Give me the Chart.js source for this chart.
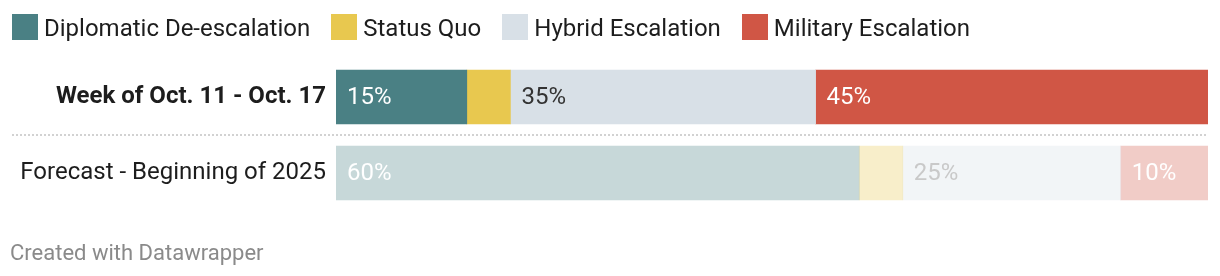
<!DOCTYPE html>
<html><head><meta charset="utf-8">
<script src="https://cdnjs.cloudflare.com/ajax/libs/Chart.js/4.4.1/chart.umd.js"></script>
<style>
body{margin:0;background:#fff;font-family:Roboto,sans-serif;}
#wrap{position:relative;width:1220px;height:276px;overflow:hidden;}
#legend{position:absolute;left:12px;top:14px;display:flex;font-size:24px;color:#1d1d1d;line-height:26px;}
.li{display:flex;align-items:center;margin-right:21px;}
.li span{position:relative;top:1px;}
.sw{width:26px;height:26px;margin-right:6px;}
#foot{position:absolute;left:10px;top:240px;font-size:22px;color:#8a8a8a;line-height:26px;}
#cv{position:absolute;left:0;top:0;}
</style></head><body>
<div id="wrap">
<canvas id="cv" width="1220" height="276"></canvas>
<div id="legend"></div>
<div id="foot">Created with Datawrapper</div>
</div>
<script>
const rows=['Week of Oct. 11 - Oct. 17','Forecast - Beginning of 2025'];
const series=['Diplomatic De-escalation','Status Quo','Hybrid Escalation','Military Escalation'];
const diplomatic=[15,60];
const statusQuo=[5,5];
const hybrid=[35,25];
const military=[45,10];
const colors=['#4a8084','#e8c84f','#d8e0e7','#d05645'];
const faded=['rgba(74,128,132,.31)','rgba(232,200,79,.3)','rgba(216,224,231,.33)','rgba(208,86,69,.3)'];
const labelCol=[['#fff','#fff'],[null,null],['#333','#c9c9c9'],['#fff','#fff']];

document.getElementById('legend').innerHTML=series.map((s,i)=>`<div class="li"><div class="sw" style="background:${colors[i]}"></div><span>${s}</span></div>`).join('');

const barLabels={
  id:'barLabels',
  afterDatasetsDraw(chart){
    const ctx=chart.ctx;
    ctx.save();
    ctx.font='24px Roboto';ctx.textBaseline='middle';ctx.textAlign='left';
    chart.data.datasets.forEach((ds,di)=>{
      chart.getDatasetMeta(di).data.forEach((bar,i)=>{
        const c=labelCol[di][i];if(!c)return;
        ctx.fillStyle=c;
        ctx.fillText(ds.data[i]+'%',bar.base+11,bar.y+1);
      });
    });
    const y=chart.scales.y.getPixelForValue(0.5);
    ctx.strokeStyle='#c4c4c4';ctx.lineWidth=1.5;ctx.setLineDash([2,2]);
    ctx.beginPath();ctx.moveTo(12,y);ctx.lineTo(chart.chartArea.right,y);ctx.stroke();
    ctx.restore();
  }
};

const vals=[diplomatic,statusQuo,hybrid,military];
new Chart(document.getElementById('cv'),{
  type:'bar',
  data:{labels:rows,datasets:series.map((s,i)=>({label:s,data:vals[i],backgroundColor:[colors[i],faded[i]],borderWidth:0,barThickness:54}))},
  options:{
    indexAxis:'y',responsive:false,animation:false,
    layout:{padding:{top:59,bottom:65,right:12,left:0}},
    plugins:{legend:{display:false},tooltip:{enabled:false}},
    scales:{
      x:{stacked:true,display:false,min:0,max:100},
      y:{stacked:true,grid:{display:false,drawTicks:false},border:{display:false},
        afterFit:s=>{s.width=336;},
        ticks:{padding:10,color:'#1d1d1d',font:c=>({family:'Roboto',size:24,weight:c.index===0?'bold':'normal'})}}
    }
  },
  plugins:[barLabels]
});
</script>
</body></html>
